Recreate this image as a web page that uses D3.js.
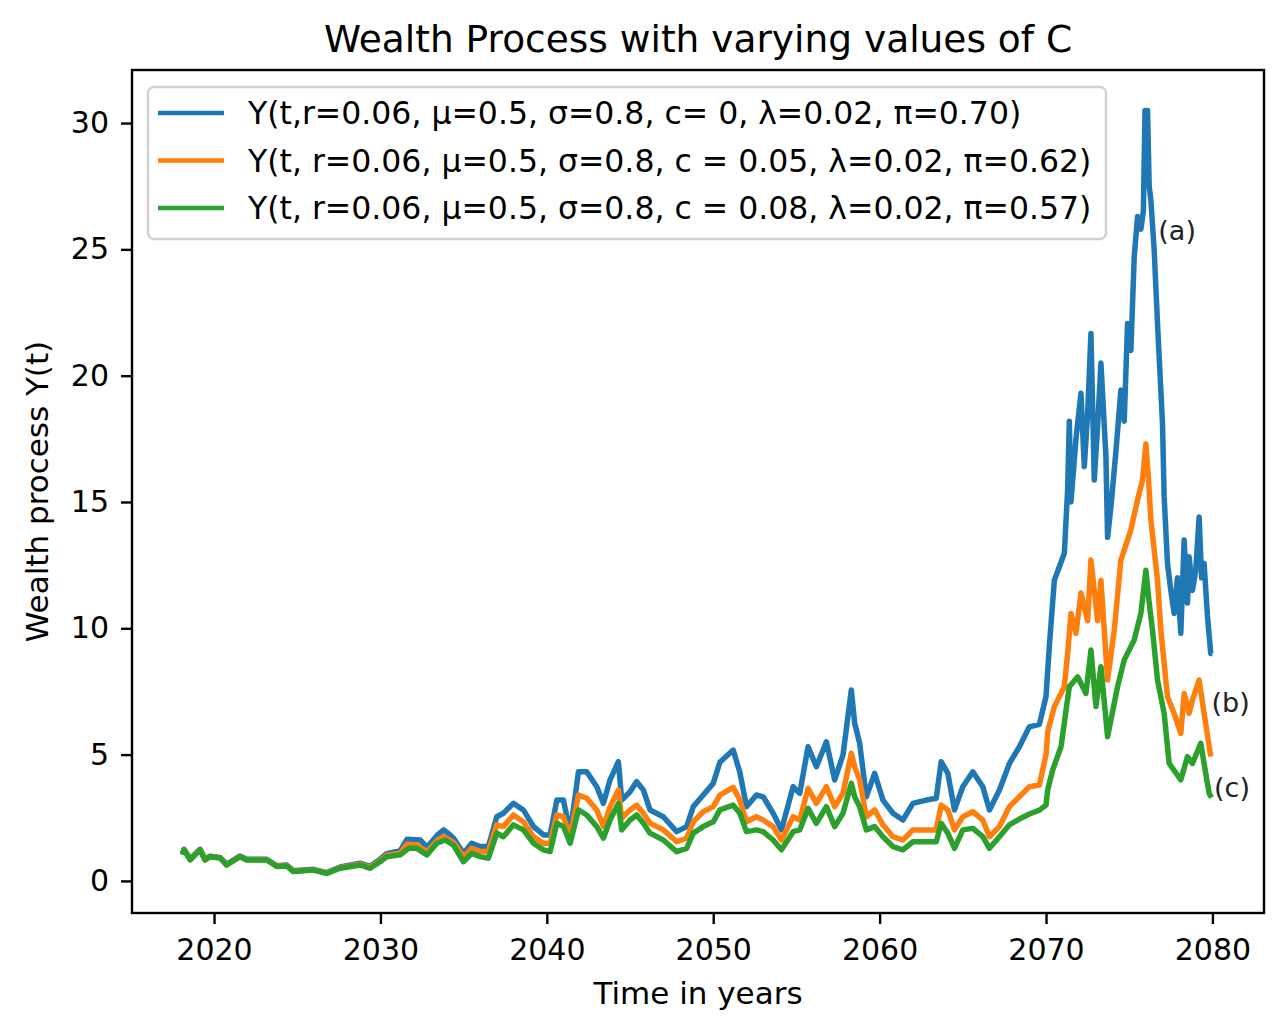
<!DOCTYPE html>
<html>
<head>
<meta charset="utf-8">
<title>Wealth Process with varying values of C</title>
<style>
  html, body { margin: 0; background: #fff; }
  svg text { font-family: "DejaVu Sans", sans-serif; fill: #000; }
  .axis path, .axis line { stroke: #000; stroke-width: 2.4px; }
  .axis text { font-size: 30px; }
</style>
</head>
<body>
<svg id="chart" width="1286" height="1028"></svg>
<script src="https://d3js.org/d3.v7.min.js"></script>
<script>
// values, [year, Y(t)]
const seriesA = [
  [2018.1,1.08],[2018.2,1.25],[2018.56,0.88],[2019.16,1.25],[2019.46,0.86],[2019.76,0.98],
  [2020.36,0.93],[2020.76,0.66],[2021.56,0.99],[2021.96,0.86],[2023.17,0.86],[2023.77,0.6],
  [2024.37,0.63],[2024.77,0.4],[2025.97,0.46],[2026.77,0.33],[2027.58,0.55],[2028.78,0.7],
  [2029.38,0.58],[2029.98,0.86],[2030.38,1.08],[2031.19,1.2],[2031.6,1.65],[2032.4,1.62],
  [2032.8,1.33],[2033.4,1.8],[2033.8,2.02],[2034.19,1.82],[2034.4,1.69],[2034.99,1.09],
  [2035.49,1.49],[2035.99,1.36],[2036.49,1.36],[2036.99,2.54],[2037.39,2.68],[2037.99,3.07],
  [2038.59,2.81],[2039.2,2.15],[2039.8,1.82],[2040.2,1.82],[2040.6,3.2],[2041.0,3.2],
  [2041.4,1.89],[2041.9,4.32],[2042.4,4.32],[2043.0,3.73],[2043.4,3.07],[2043.8,4.0],
  [2044.3,4.72],[2044.5,3.2],[2045.0,3.53],[2045.4,3.93],[2045.8,3.6],[2046.2,2.81],
  [2047.0,2.54],[2047.8,1.95],[2048.4,2.15],[2048.8,2.94],[2049.4,3.4],[2050.0,3.86],
  [2050.4,4.7],[2051.2,5.18],[2051.6,4.3],[2052.0,2.94],[2052.6,3.4],[2053.0,3.33],
  [2053.6,2.68],[2054.1,2.02],[2054.8,3.73],[2055.2,3.47],[2055.7,5.31],[2056.2,4.52],
  [2056.8,5.51],[2057.3,4.0],[2057.8,4.99],[2058.3,7.56],[2058.5,6.24],[2058.8,5.45],
  [2059.2,3.33],[2059.7,4.26],[2060.2,3.2],[2060.8,2.68],[2061.4,2.41],[2062.0,3.07],
  [2062.8,3.2],[2063.4,3.27],[2063.7,4.72],[2064.1,4.26],[2064.5,2.81],[2065.0,3.73],
  [2065.6,4.32],[2066.2,3.73],[2066.6,2.81],[2067.2,3.6],[2067.8,4.65],[2068.4,5.31],
  [2069.0,6.1],[2069.6,6.2],[2070.0,7.3],[2070.2,9.3],[2070.5,11.9],[2071.1,12.97],
  [2071.3,15.5],[2071.4,18.2],[2071.5,15.0],[2071.8,17.5],[2072.1,19.3],[2072.3,16.4],
  [2072.5,18.5],[2072.7,21.67],[2072.9,15.87],[2073.1,18.0],[2073.3,20.5],[2073.6,16.8],
  [2073.7,13.6],[2073.9,14.8],[2074.2,17.0],[2074.5,19.43],[2074.7,18.2],[2074.9,22.07],
  [2075.1,21.0],[2075.3,24.7],[2075.5,26.3],[2075.7,25.8],[2075.85,26.5],[2075.95,30.5],
  [2076.1,30.5],[2076.2,27.5],[2076.3,26.95],[2076.5,24.97],[2076.7,22.07],[2076.9,19.43],
  [2077.0,18.1],[2077.1,15.2],[2077.3,12.57],[2077.5,11.5],[2077.7,10.59],[2077.9,12.0],
  [2078.1,9.8],[2078.3,13.5],[2078.5,11.0],[2078.6,12.83],[2078.8,11.5],[2079.0,12.3],
  [2079.2,14.41],[2079.35,12.0],[2079.5,12.57],[2079.7,10.5],[2079.9,9.0],[2080.0,9.0]
];

const seriesB = [
  [2018.1,1.06],[2018.2,1.24],[2018.56,0.85],[2019.16,1.24],[2019.46,0.84],[2019.76,0.97],
  [2020.36,0.92],[2020.76,0.64],[2021.56,0.97],[2021.96,0.84],[2023.17,0.84],[2023.77,0.58],
  [2024.37,0.61],[2024.77,0.38],[2025.97,0.44],[2026.77,0.31],[2027.58,0.52],[2028.78,0.66],
  [2029.38,0.54],[2029.98,0.8],[2030.38,1.02],[2031.19,1.1],[2031.6,1.45],[2032.19,1.42],
  [2032.8,1.15],[2033.4,1.6],[2033.8,1.75],[2034.19,1.6],[2034.4,1.52],[2034.99,0.96],
  [2035.49,1.29],[2035.99,1.16],[2036.49,1.16],[2036.99,2.22],[2037.39,2.15],[2037.99,2.61],
  [2038.59,2.34],[2039.2,1.75],[2039.8,1.49],[2040.2,1.49],[2040.6,2.61],[2041.0,2.54],
  [2041.4,1.75],[2041.9,3.4],[2042.4,3.27],[2043.0,2.81],[2043.4,2.15],[2043.8,2.94],
  [2044.3,3.6],[2044.5,2.48],[2045.0,2.81],[2045.4,3.0],[2045.8,2.68],[2046.2,2.28],
  [2047.0,2.02],[2047.8,1.55],[2048.4,1.69],[2048.8,2.34],[2049.4,2.74],[2050.0,2.94],
  [2050.4,3.4],[2051.2,3.7],[2051.6,3.2],[2052.0,2.34],[2052.6,2.54],[2053.0,2.41],
  [2053.6,2.15],[2054.1,1.62],[2054.8,2.54],[2055.2,2.41],[2055.7,3.66],[2056.2,3.07],
  [2056.8,3.73],[2057.3,2.94],[2057.8,3.47],[2058.3,5.05],[2058.5,4.52],[2058.8,4.0],
  [2059.2,2.54],[2059.7,2.81],[2060.2,2.22],[2060.8,1.75],[2061.4,1.62],[2062.0,2.02],
  [2062.8,2.02],[2063.4,2.02],[2063.7,3.0],[2064.1,2.81],[2064.5,2.02],[2065.0,2.54],
  [2065.6,2.74],[2066.2,2.41],[2066.6,1.75],[2067.2,2.15],[2067.8,2.94],[2068.4,3.33],
  [2069.0,3.73],[2069.6,3.8],[2070.0,5.0],[2070.1,5.9],[2070.5,6.9],[2071.1,7.69],
  [2071.3,9.0],[2071.5,10.59],[2071.8,9.8],[2072.1,11.4],[2072.5,10.3],[2072.7,12.7],
  [2073.1,10.3],[2073.3,11.9],[2073.7,7.95],[2074.1,9.93],[2074.5,12.7],[2075.1,13.9],
  [2075.5,15.08],[2075.8,15.87],[2076.0,17.3],[2076.15,16.0],[2076.3,14.3],[2076.7,11.9],
  [2076.9,9.93],[2077.3,7.29],[2077.7,6.63],[2078.1,5.84],[2078.3,7.42],[2078.6,6.63],
  [2078.8,7.16],[2079.2,7.95],[2079.5,6.63],[2079.9,4.92]
];

const seriesC = [
  [2018.1,1.03],[2018.2,1.23],[2018.56,0.83],[2019.16,1.23],[2019.46,0.83],[2019.76,0.96],
  [2020.36,0.91],[2020.76,0.63],[2021.56,0.96],[2021.96,0.83],[2023.17,0.83],[2023.77,0.57],
  [2024.37,0.59],[2024.77,0.37],[2025.97,0.43],[2026.77,0.3],[2027.58,0.5],[2028.78,0.63],
  [2029.38,0.5],[2029.98,0.76],[2030.38,0.96],[2031.19,1.03],[2031.69,1.29],[2032.19,1.29],
  [2032.79,1.03],[2033.39,1.49],[2033.89,1.62],[2034.39,1.42],[2034.99,0.76],[2035.49,1.09],
  [2035.99,0.96],[2036.49,0.9],[2036.99,1.89],[2037.39,1.75],[2037.99,2.22],[2038.59,2.02],
  [2039.2,1.49],[2039.8,1.23],[2040.2,1.16],[2040.6,2.28],[2041.0,2.15],[2041.4,1.49],
  [2041.9,2.81],[2042.4,2.61],[2043.0,2.15],[2043.4,1.69],[2043.8,2.41],[2044.3,3.07],
  [2044.5,2.02],[2045.0,2.41],[2045.4,2.61],[2045.8,2.28],[2046.2,1.89],[2047.0,1.62],
  [2047.8,1.16],[2048.4,1.29],[2048.8,1.89],[2049.4,2.15],[2050.0,2.34],[2050.4,2.81],
  [2051.2,3.0],[2051.6,2.68],[2052.0,1.95],[2052.6,2.02],[2053.0,1.95],[2053.6,1.62],
  [2054.1,1.23],[2054.8,1.95],[2055.2,2.02],[2055.7,2.87],[2056.2,2.28],[2056.8,2.94],
  [2057.3,2.15],[2057.8,2.68],[2058.3,3.86],[2058.5,3.33],[2058.8,2.94],[2059.2,2.02],
  [2059.7,2.15],[2060.2,1.75],[2060.8,1.36],[2061.4,1.23],[2062.0,1.55],[2062.8,1.55],
  [2063.4,1.55],[2063.7,2.28],[2064.1,1.89],[2064.5,1.29],[2065.0,2.02],[2065.6,2.08],
  [2066.2,1.75],[2066.6,1.29],[2067.2,1.75],[2067.8,2.22],[2068.4,2.45],[2069.0,2.65],
  [2069.6,2.8],[2070.0,3.0],[2070.1,3.6],[2070.4,4.39],[2070.9,5.31],[2071.4,7.69],
  [2071.9,8.08],[2072.4,7.42],[2072.7,9.14],[2073.0,6.9],[2073.3,8.48],[2073.7,5.71],
  [2074.3,7.69],[2074.7,8.75],[2075.3,9.54],[2075.7,10.59],[2076.0,12.3],[2076.2,11.0],
  [2076.4,9.93],[2076.7,7.95],[2077.1,6.63],[2077.4,4.65],[2078.1,4.0],[2078.5,4.92],
  [2078.8,4.65],[2079.3,5.45],[2079.5,4.65],[2079.8,3.47],[2079.95,3.3]
];

const legendLabels = [
  "Y(t,r=0.06, \u03bc=0.5, \u03c3=0.8, c= 0, \u03bb=0.02, \u03c0=0.70)",
  "Y(t, r=0.06, \u03bc=0.5, \u03c3=0.8, c = 0.05, \u03bb=0.02, \u03c0=0.62)",
  "Y(t, r=0.06, \u03bc=0.5, \u03c3=0.8, c = 0.08, \u03bb=0.02, \u03c0=0.57)"
];
const colors = ["#1f77b4", "#ff7f0e", "#2ca02c"];
const xTicks = [2020, 2030, 2040, 2050, 2060, 2070, 2080];
const yTicks = [0, 5, 10, 15, 20, 25, 30];
const notes = [["(a)", 2076.75, 25.37], ["(b)", 2079.95, 6.69], ["(c)", 2080.1, 3.32]];

const svg = d3.select("#chart");
const axLeft = 132, axRight = 1264, axTop = 70, axBottom = 913;

const x = d3.scaleLinear().domain([2015.07, 2083.1]).range([axLeft, axRight]);
const y = d3.scaleLinear().domain([-1.27, 32.1]).range([axBottom, axTop]);

svg.append("defs").append("clipPath").attr("id", "clip")
  .append("rect").attr("x", axLeft).attr("y", axTop)
  .attr("width", axRight - axLeft).attr("height", axBottom - axTop);

const line = d3.line().x(d => x(d[0])).y(d => y(d[1]));

const plot = svg.append("g").attr("clip-path", "url(#clip)");
[seriesA, seriesB, seriesC].forEach((s, i) => {
  plot.append("path")
    .attr("d", line(s))
    .attr("fill", "none")
    .attr("stroke", colors[i])
    .attr("stroke-width", 5.5)
    .attr("stroke-linejoin", "round");
});

// notes next to the line ends
svg.selectAll(".note").data(notes).enter().append("text")
  .attr("class", "note")
  .attr("x", d => x(d[1]))
  .attr("y", d => y(d[2]))
  .style("font-size", "27px")
  .style("fill", "#222")
  .text(d => d[0]);

// axes
svg.append("g").attr("class", "axis")
  .attr("transform", `translate(0,${axBottom})`)
  .call(d3.axisBottom(x).tickValues(xTicks).tickFormat(d3.format("d")).tickSize(11).tickPadding(15).tickSizeOuter(0))
  .call(g => g.select(".domain").remove());

svg.append("g").attr("class", "axis")
  .attr("transform", `translate(${axLeft},0)`)
  .call(d3.axisLeft(y).tickValues(yTicks).tickSize(11).tickPadding(12).tickSizeOuter(0))
  .call(g => g.select(".domain").remove());

svg.append("rect")
  .attr("x", axLeft).attr("y", axTop)
  .attr("width", axRight - axLeft).attr("height", axBottom - axTop)
  .attr("fill", "none").attr("stroke", "#000").attr("stroke-width", 2.4);

// titles
svg.append("text")
  .attr("x", (axLeft + axRight) / 2).attr("y", 52)
  .attr("text-anchor", "middle")
  .style("font-size", "37.5px")
  .text("Wealth Process with varying values of C");

svg.append("text")
  .attr("x", (axLeft + axRight) / 2).attr("y", 1004)
  .attr("text-anchor", "middle")
  .style("font-size", "31px")
  .text("Time in years");

svg.append("text")
  .attr("transform", `translate(48,${(axTop + axBottom) / 2}) rotate(-90)`)
  .attr("text-anchor", "middle")
  .style("font-size", "31px")
  .text("Wealth process Y(t)");

// legend
const legend = svg.append("g");
legend.append("rect")
  .attr("x", 148).attr("y", 87).attr("width", 958).attr("height", 152)
  .attr("rx", 6)
  .attr("fill", "#fff").attr("fill-opacity", 0.8)
  .attr("stroke", "#d0d0d0").attr("stroke-width", 2.4);

legendLabels.forEach((label, i) => {
  const ly = 113 + i * 47.5;
  legend.append("line")
    .attr("x1", 158).attr("x2", 224).attr("y1", ly).attr("y2", ly)
    .attr("stroke", colors[i]).attr("stroke-width", 4.6);
  legend.append("text")
    .attr("x", 248).attr("y", ly).attr("dy", "0.36em")
    .style("font-size", "31.5px")
    .text(label);
});
</script>
</body>
</html>
